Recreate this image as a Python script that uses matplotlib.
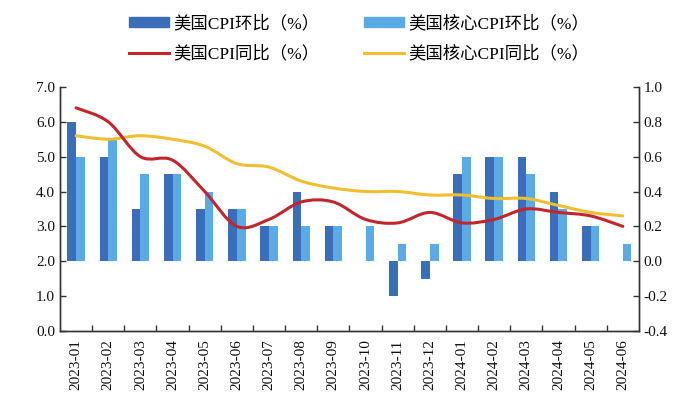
import matplotlib
matplotlib.use("Agg")
import matplotlib.pyplot as plt
from matplotlib.path import Path
from matplotlib.patches import PathPatch, Patch
from matplotlib.lines import Line2D
import numpy as np

months = ["2023-01", "2023-02", "2023-03", "2023-04", "2023-05", "2023-06",
          "2023-07", "2023-08", "2023-09", "2023-10", "2023-11", "2023-12",
          "2024-01", "2024-02", "2024-03", "2024-04", "2024-05", "2024-06"]
cpi_mom = [0.8, 0.6, 0.3, 0.5, 0.3, 0.3, 0.2, 0.4, 0.2, 0.0, -0.2, -0.1,
           0.5, 0.6, 0.6, 0.4, 0.2, 0.0]
core_mom = [0.6, 0.7, 0.5, 0.5, 0.4, 0.3, 0.2, 0.2, 0.2, 0.2, 0.1, 0.1,
            0.6, 0.6, 0.5, 0.3, 0.2, 0.1]
cpi_yoy = [6.4, 6.0, 5.0, 4.9, 4.0, 3.0, 3.2, 3.7, 3.7, 3.2, 3.1, 3.4,
           3.1, 3.2, 3.5, 3.4, 3.3, 3.0]
core_yoy = [5.6, 5.5, 5.6, 5.5, 5.3, 4.8, 4.7, 4.3, 4.1, 4.0, 4.0, 3.9,
            3.9, 3.8, 3.8, 3.6, 3.4, 3.3]

labels = ["美国CPI环比（%）", "美国核心CPI环比（%）", "美国CPI同比（%）", "美国核心CPI同比（%）"]

C_DARK = "#3B6DB9"
C_LIGHT = "#5AAAE6"
C_RED = "#C0262B"
C_YEL = "#F0BF2F"

plt.rcParams['font.family'] = ['Liberation Serif', 'Noto Sans CJK SC']

fig = plt.figure(figsize=(7, 4.2), dpi=100)
ax = fig.add_axes([0.0857, 0.212, 0.827, 0.581])
ax2 = ax.twinx()

x = np.arange(len(months))
w = 0.27
ax2.bar(x - w / 2, cpi_mom, w, color=C_DARK, zorder=2)
ax2.bar(x + w / 2, core_mom, w, color=C_LIGHT, zorder=2)
ax2.set_ylim(-0.4, 1.0)
ax2.set_yticks(np.arange(-0.4, 1.01, 0.2))
ax2.set_yticklabels([f"{v:.1f}" for v in np.arange(-0.4, 1.01, 0.2)])


def smooth_path(xs, ys, t=0.5):
    xs = np.asarray(xs, float)
    ys = np.asarray(ys, float)
    n = len(xs)
    verts = [(xs[0], ys[0])]
    codes = [Path.MOVETO]
    for i in range(n - 1):
        p0 = np.array([xs[max(i - 1, 0)], ys[max(i - 1, 0)]])
        p1 = np.array([xs[i], ys[i]])
        p2 = np.array([xs[i + 1], ys[i + 1]])
        p3 = np.array([xs[min(i + 2, n - 1)], ys[min(i + 2, n - 1)]])
        c1 = p1 + (p2 - p0) * t / 3
        c2 = p2 - (p3 - p1) * t / 3
        verts += [tuple(c1), tuple(c2), tuple(p2)]
        codes += [Path.CURVE4] * 3
    return Path(verts, codes)


ax2.set_zorder(1)
ax.set_zorder(2)
ax.patch.set_visible(False)

for ys, col in [(core_yoy, C_YEL), (cpi_yoy, C_RED)]:
    ax.add_patch(PathPatch(smooth_path(x, ys), facecolor="none", edgecolor=col,
                           lw=2.2, zorder=3, capstyle="round"))

ax.set_ylim(0, 7)
ax.set_yticks(np.arange(0, 7.01, 1))
ax.set_yticklabels([f"{v:.1f}" for v in np.arange(0, 7.01, 1)])
ax.set_xlim(-0.5, len(months) - 0.5)
ax.set_xticks(x)
ax.set_xticklabels(months, rotation=90)
ax.set_xticks(np.arange(0.5, len(months) - 0.5, 1), minor=True)
ax.tick_params(axis="x", which="major", length=0, pad=6)
ax.tick_params(axis="x", which="minor", direction="in", length=4, width=1, color="#333333")
ax.tick_params(axis="y", direction="in", length=4, width=1, color="#333333")
ax2.tick_params(axis="y", direction="in", length=4, width=1, color="#333333")

for a in (ax, ax2):
    a.spines["top"].set_visible(False)
    for s in ("left", "right", "bottom"):
        a.spines[s].set_color("#333333")
        a.spines[s].set_linewidth(1.0)
    a.tick_params(labelsize=11, labelcolor="#111111")

h_dark = Patch(color=C_DARK)
h_light = Patch(color=C_LIGHT)
h_red = Line2D([], [], color=C_RED, lw=2.2)
h_yel = Line2D([], [], color=C_YEL, lw=2.2)
# legend fills column-wise: order so rows read 环比 / 同比
fig.legend([h_dark, h_red, h_light, h_yel],
           [labels[0], labels[2], labels[1], labels[3]],
           ncol=2, loc="upper center", bbox_to_anchor=(0.513, 1.0),
           frameon=False, fontsize=12.5, handlelength=2.3, handleheight=0.55,
           columnspacing=2.6, handletextpad=0.25, labelspacing=0.75)

fig.savefig("out.png", dpi=100)
